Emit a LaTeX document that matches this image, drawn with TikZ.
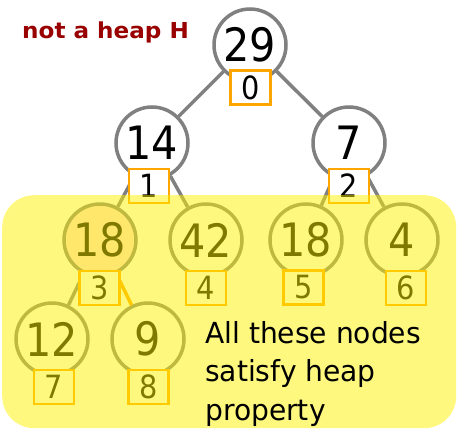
\documentclass[tikz,border=0pt]{standalone}
\usepackage{fontspec}
\setmainfont{DejaVu Sans}[FakeStretch=0.9]
\newfontfamily\notefont{DejaVu Sans}[FakeStretch=0.97]
\newfontfamily\titlefont{DejaVu Sans}[FakeStretch=1.05]
\definecolor{edgegray}{RGB}{128,128,128}
\definecolor{boxorange}{RGB}{255,165,0}
\definecolor{titlered}{RGB}{153,0,0}
\definecolor{hlfill}{RGB}{255,220,215}
\begin{document}
\begin{tikzpicture}[x=1pt,y=-1pt,
  vtx/.style={circle,draw=edgegray,line width=3.5pt,fill=white,minimum size=72pt,inner sep=0pt,
    font=\fontsize{46}{46}\selectfont},
  idx/.style={rectangle,draw=boxorange,line width=2.5pt,fill=white,minimum width=40pt,minimum height=34pt,inner sep=0pt,
    font=\fontsize{32}{32}\selectfont},
  edge/.style={draw=edgegray,line width=3.5pt},
  hledge/.style={draw=boxorange,line width=3.5pt},
  note/.style={anchor=base west,inner sep=0pt,font=\notefont\fontsize{29}{29}\selectfont}]
\useasboundingbox (0,0) rectangle (458,431);
% vertices
\node[vtx] (n0) at (250,45) {29};
\node[vtx] (n1) at (152,143) {14};
\node[vtx] (n2) at (349,143) {7};
\node[vtx,fill=hlfill] (n3) at (100,240) {18};
\node[vtx] (n4) at (206,240) {42};
\node[vtx] (n5) at (306,240) {18};
\node[vtx] (n6) at (402,240) {4};
\node[vtx] (n7) at (52,339) {12};
\node[vtx] (n8) at (148,339) {9};
% edges
\draw[edge] (n0) -- (n1);
\draw[edge] (n0) -- (n2);
\draw[edge] (n1) -- (n3);
\draw[edge] (n1) -- (n4);
\draw[edge] (n2) -- (n5);
\draw[edge] (n2) -- (n6);
\draw[edge] (n3) -- (n7);
\draw[hledge] (n3) -- (n8);
% index boxes
\node[idx] (b0) at (250.5,87.5) {0};
\node[idx] (b1) at (149,186) {1};
\node[idx] (b2) at (349,186) {2};
\node[idx] (b3) at (99.5,288) {3};
\node[idx] (b4) at (206,288) {4};
\node[idx] (b5) at (303.5,287.5) {5};
\node[idx] (b6) at (406,288) {6};
\node[idx] (b7) at (54,387) {7};
\node[idx] (b8) at (148.5,387) {8};
% yellow overlay
\node[rectangle,rounded corners=32pt,fill=yellow,fill opacity=0.5,draw=none,
  minimum width=454pt,minimum height=233pt,inner sep=0pt,anchor=north west] (zone) at (2,195) {};
% texts
\node[anchor=base west,inner sep=0pt,text=titlered,font=\titlefont\fontsize{22}{22}\selectfont\bfseries] (title) at (22,38) {not a heap H};
\node[note] (t1) at (205,343) {All these nodes};
\node[note] (t2) at (205,381.5) {satisfy heap};
\node[note] (t3) at (205,420) {property};
\end{tikzpicture}
\end{document}
